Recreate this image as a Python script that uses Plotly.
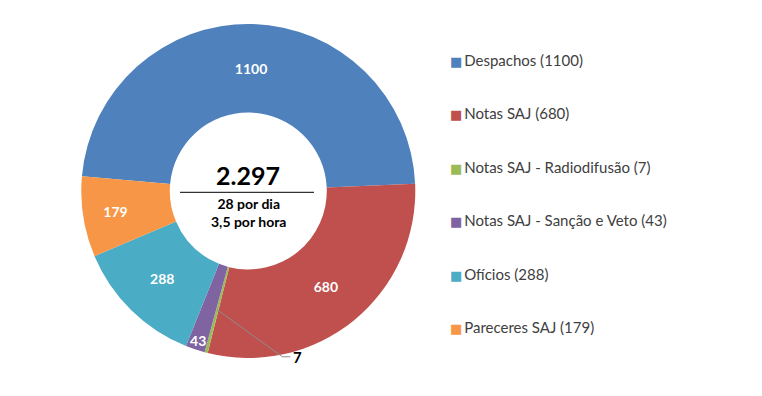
import math
import plotly.graph_objects as go

# ---- data ----
categories = ["Despachos", "Notas SAJ", "Notas SAJ - Radiodifusão",
              "Notas SAJ - Sanção e Veto", "Ofícios", "Pareceres SAJ"]
values = [1100, 680, 7, 43, 288, 179]
colors = ["#4F81BD", "#C0504D", "#9BBB59", "#8064A2", "#4BACC6", "#F79646"]
total_label = "2.297"
sub_labels = ["28 por dia", "3,5 por hora"]

# ---- layout constants ----
W, H = 762, 396
cx, cy, R = 248.3, 191.0, 167.0
hole = 0.47
start_deg = 275.1  # clockwise from 12 o'clock
FONT = "Lato"

dom_x = [(cx - R) / W, (cx + R) / W]
dom_y = [1 - (cy + R) / H, 1 - (cy - R) / H]

text_pos = ["inside" if v >= 20 else "none" for v in values]

fig = go.Figure()
fig.add_trace(go.Pie(
    labels=categories, values=values, sort=False, direction="clockwise",
    rotation=start_deg - 360, hole=hole,
    marker=dict(colors=colors, line=dict(width=0)),
    text=[str(v) for v in values], textinfo="text", textposition=text_pos,
    insidetextorientation="horizontal",
    textfont=dict(family=FONT, size=14, color="white", weight="bold"),
    domain=dict(x=dom_x, y=dom_y), showlegend=False, hoverinfo="label+value",
))

# legend via dummy traces for spacing
for i, (c, v, col) in enumerate(zip(categories, values, colors)):
    fig.add_trace(go.Scatter(
        x=[None], y=[None], mode="markers",
        marker=dict(color="rgba(0,0,0,0)", size=1, line=dict(width=0)),
        name=(f"<span style='color:{col};font-size:13px;font-family:DejaVu Sans'>■</span>"
              f"\u2009{c} ({v})"),
        legendgroup=f"g{i}", showlegend=True, hoverinfo="skip"))

# label for small slice with elbow leader line
tot = sum(values)
cum = 0
for v in values:
    if v < 20:
        mid = start_deg + (cum + v / 2) / tot * 360
        r_mid = R * (1 + hole) / 2
        px = cx + r_mid * math.sin(math.radians(mid))
        py = cy - r_mid * math.cos(math.radians(mid))
        ex, ey = px + 65, py + 47
        fx, fy = ex + 8, ey
        path = (f"M {px / W} {1 - py / H} L {ex / W} {1 - ey / H} "
                f"L {fx / W} {1 - fy / H}")
        fig.add_shape(type="path", xref="paper", yref="paper", path=path,
                      line=dict(color="#8c8c8c", width=1))
        fig.add_annotation(x=(fx + 1) / W, y=1 - fy / H, xref="paper", yref="paper",
                           text=f"<b>{v}</b>", showarrow=False,
                           font=dict(family=FONT, size=15, color="black"),
                           xanchor="left", yanchor="middle")
    cum += v

# center text
fig.add_annotation(x=cx / W, y=1 - 175 / H, xref="paper", yref="paper",
                   text=f"<b>{total_label}</b>", showarrow=False,
                   xanchor="center", yanchor="middle",
                   font=dict(family=FONT, size=25, color="black"))
fig.add_annotation(x=cx / W, y=1 - 212 / H, xref="paper", yref="paper",
                   text="<b>" + "<br>".join(sub_labels) + "</b>", showarrow=False,
                   xanchor="center", yanchor="middle",
                   font=dict(family=FONT, size=14, color="black"))
fig.add_shape(type="line", xref="paper", yref="paper",
              x0=180 / W, x1=314 / W, y0=1 - 192.3 / H, y1=1 - 192.3 / H,
              line=dict(color="black", width=1))

fig.update_layout(
    width=W, height=H, margin=dict(l=0, r=0, t=0, b=0),
    paper_bgcolor="white", plot_bgcolor="white",
    xaxis=dict(visible=False), yaxis=dict(visible=False),
    uniformtext=dict(minsize=14, mode="show"),
    legend=dict(x=(450 - 40) / W, y=1 - 43.5 / H, xanchor="left", yanchor="top",
                tracegroupgap=31, itemclick=False,
                font=dict(family=FONT, size=15, color="#404040"),
                bgcolor="rgba(0,0,0,0)"),
    font=dict(family=FONT),
)

fig.write_html("out.html", config={"displayModeBar": False},
               post_script="document.body.style.margin='0';")
